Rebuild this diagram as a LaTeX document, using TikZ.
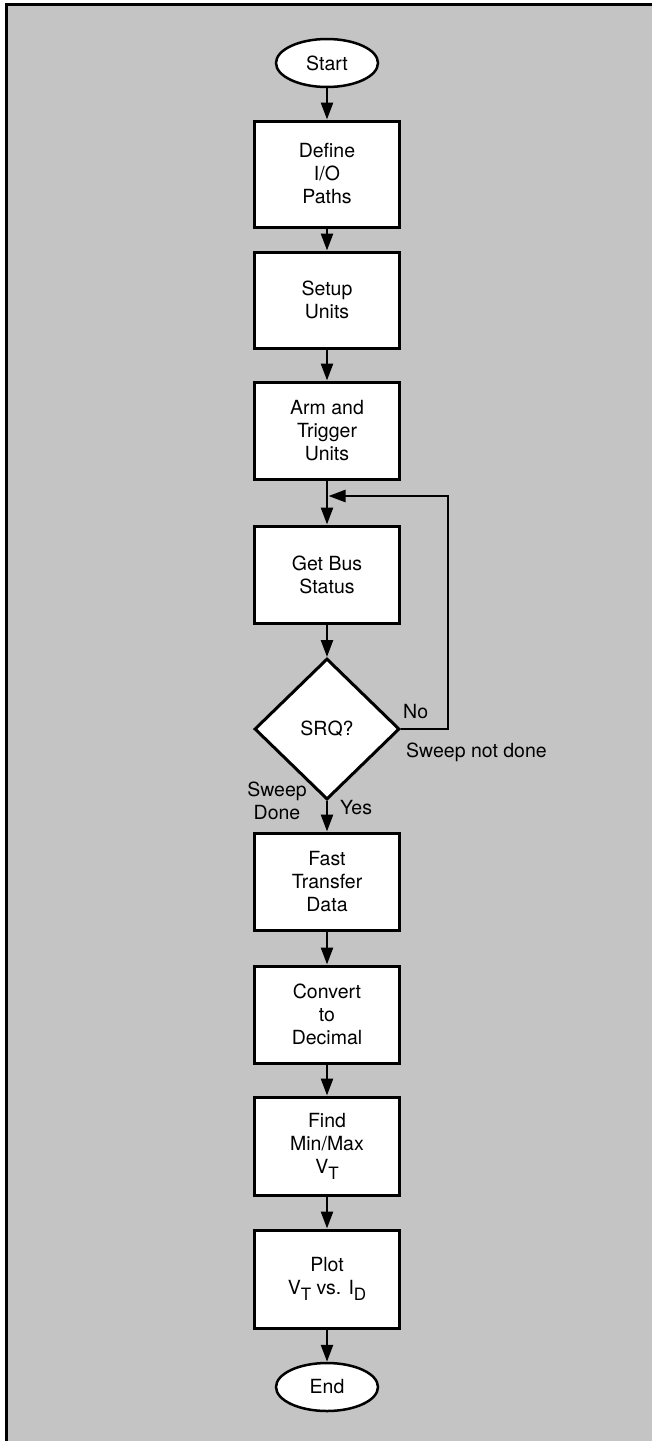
\documentclass[tikz,border=0pt]{standalone}
\usepackage{fontspec}
\setmainfont{TeX Gyre Heros}
\usetikzlibrary{arrows.meta,shapes.geometric}
\definecolor{bgc}{RGB}{196,196,196}
\newcommand{\sbs}[1]{\raisebox{-0.3em}{\fontsize{17}{17}\selectfont #1}}
\begin{document}
\begin{tikzpicture}[x=1pt,y=-1pt,
 every node/.style={font=\fontsize{19.5}{23}\selectfont},
 proc/.style={draw,line width=3pt,fill=white,minimum width=145pt,align=center,inner sep=0pt},
 term/.style={draw,ellipse,line width=2.5pt,fill=white,minimum width=102pt,minimum height=48pt,inner sep=0pt},
 dec/.style={draw,diamond,line width=3pt,fill=white,minimum width=145pt,minimum height=141pt,inner sep=0pt},
 flow/.style={line width=2.5pt,-{Triangle[length=17pt,width=12pt]}},
 lbl/.style={inner sep=0pt}]
\useasboundingbox (0,0) rectangle (652,1441);
\fill[bgc] (6.5,4) rectangle (652,1441);
\draw[line width=3pt] (6.5,1441) -- (6.5,4) -- (652,4);

\node[term] (start) at (327,63) {Start};
\node[proc,minimum height=106pt] (define) at (327,174) {Define\\I/O\\Paths};
\node[proc,minimum height=96pt] (setup) at (327,300) {Setup\\Units};
\node[proc,minimum height=97pt] (arm) at (327,430.5) {Arm and\\Trigger\\Units};
\node[proc,minimum height=97pt] (bus) at (327,574.5) {Get Bus\\Status};
\node[dec] (srq) at (327,729) {SRQ?};
\node[proc,minimum height=97pt] (fast) at (327,881.5) {Fast\\Transfer\\Data};
\node[proc,minimum height=97pt] (conv) at (327,1014.5) {Convert\\to\\Decimal};
\node[proc,minimum height=98pt] (find) at (327,1146) {Find\\Min/Max\\V\sbs{T}};
\node[proc,minimum height=98pt] (plot) at (327,1279) {Plot\\V\sbs{T} vs. I\sbs{D}};
\node[term] (end) at (327,1387) {End};

\draw[flow] (start) -- (define);
\draw[flow] (define) -- (setup);
\draw[flow] (setup) -- (arm);
\draw[flow] (arm) -- (bus);
\draw[flow] (bus) -- (srq);
\draw[flow] (srq) -- (fast);
\draw[flow] (fast) -- (conv);
\draw[flow] (conv) -- (find);
\draw[flow] (find) -- (plot);
\draw[flow] (plot) -- (end);

\coordinate (lp) at (448,496);
\coordinate (join) at (328.5,496);
\draw[flow] (srq.east) -| (lp) -- (join);

\node[lbl,anchor=west] (no) at (403,712) {No};
\node[lbl,anchor=west] (snd) at (406,752) {Sweep not done};
\node[lbl,align=center] (sd) at (277,801) {Sweep\\Done};
\node[lbl,anchor=west] (yes) at (340,808) {Yes};
\end{tikzpicture}
\end{document}
